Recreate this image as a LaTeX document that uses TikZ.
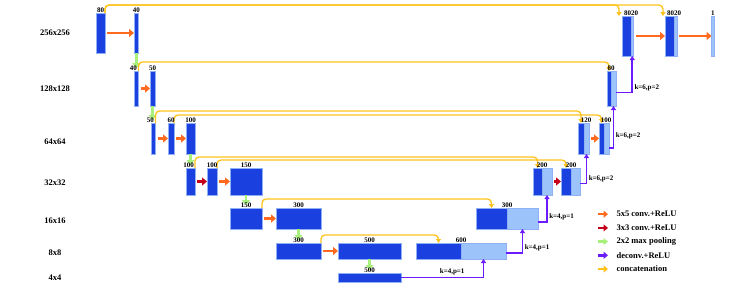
\documentclass[tikz,border=0pt]{standalone}
\usepackage{fontspec}
\setmainfont{Liberation Serif}
\usetikzlibrary{arrows.meta,positioning}
\definecolor{BlkDark}{HTML}{1A40E0}
\definecolor{BlkLight}{HTML}{9CC3FA}
\definecolor{BlkEdge}{HTML}{8FB0F5}
\definecolor{ConvFive}{HTML}{FF6A1F}
\definecolor{ConvThree}{HTML}{C4001A}
\definecolor{PoolGreen}{HTML}{A8F07C}
\definecolor{DeconvPurple}{HTML}{6A1BFF}
\definecolor{ConcatYellow}{HTML}{FFC21A}
\tikzset{blk/.style 2 args={draw=BlkEdge,fill=BlkDark,line width=.5pt,inner sep=0pt,
 outer sep=0pt,minimum width=#1,minimum height=#2,anchor=north west},
 lgt/.style 2 args={blk={#1}{#2},fill=BlkLight},
 lab/.style={font=\bfseries\fontsize{7}{8}\selectfont,inner sep=.6pt},
 rowlab/.style={font=\bfseries\fontsize{8.5}{10}\selectfont},
 kl/.style={font=\bfseries\fontsize{7}{8}\selectfont,inner sep=1.5pt,text=black},
 conv/.style={ConvFive,line width=2.8pt,-{Triangle[length=5pt,width=8pt]},shorten <=2pt},
 convs/.style={conv,ConvThree},
 pool/.style={PoolGreen,line width=2.8pt,-{Triangle[length=5pt,width=8pt]},shorten >=3pt},
 deconv/.style={DeconvPurple,line width=1.6pt,-{Triangle[length=4pt,width=5pt]}},
 concat/.style={ConcatYellow,line width=1.3pt,rounded corners=4pt,-{Triangle[length=4pt,width=5pt]}}}
\begin{document}
\begin{tikzpicture}[x=1pt,y=-1pt]
\useasboundingbox (0,0) rectangle (747,287);
\foreach \y/\t [count=\i] in {33/256x256,89/128x128,142/64x64,183/32x32,221/16x16,253/8x8,278/4x4}
 {\node[rowlab] (res\i) at (55,\y) {\t};}
% encoder
\node[blk={9pt}{40pt}] (e80) at (96,13) {};
\node[blk={4.5pt}{40pt}] (e40) at (134,13) {};
\node[blk={4.5pt}{35pt}] (e40b) at (134,71) {};
\node[blk={5pt}{35pt}] (e50) at (150,71) {};
\node[blk={4.5pt}{31pt}] (e50b) at (151,123) {};
\node[blk={6pt}{31pt}] (e60) at (168,123) {};
\node[blk={9pt}{31pt}] (e100) at (186,123) {};
\node[blk={9pt}{27pt}] (e100b) at (186,168) {};
\node[blk={10pt}{27pt}] (e100c) at (207,168) {};
\node[blk={32pt}{27pt}] (e150) at (230,168) {};
\node[blk={32pt}{21pt}] (e150b) at (230,208) {};
\node[blk={45pt}{21pt}] (e300) at (276,208) {};
\node[blk={45pt}{16pt}] (e300b) at (276,243) {};
\node[blk={63pt}{16pt}] (e500) at (338,243) {};
\node[blk={63pt}{9pt}] (e500b) at (338,273) {};
% decoder
\node[blk={45pt}{16pt}] (d600a) at (416,243) {};
\node[lgt={45pt}{16pt},right=0pt of d600a] (d600b) {};
\node[blk={31pt}{21pt}] (d300a) at (476,208) {};
\node[lgt={31pt}{21pt},right=0pt of d300a] (d300b) {};
\node[blk={9pt}{27pt}] (d200aa) at (533,168) {};
\node[lgt={10pt}{27pt},right=0pt of d200aa] (d200ab) {};
\node[blk={10pt}{27pt}] (d200ba) at (561,168) {};
\node[lgt={9pt}{27pt},right=0pt of d200ba] (d200bb) {};
\node[blk={6pt}{31pt}] (d120a) at (578,123) {};
\node[lgt={5pt}{31pt},right=0pt of d120a] (d120b) {};
\node[blk={5pt}{31pt}] (d100a) at (599,123) {};
\node[lgt={5pt}{31pt},right=0pt of d100a] (d100b) {};
\node[blk={4pt}{35pt}] (d80a) at (607,71) {};
\node[lgt={5pt}{35pt},right=0pt of d80a] (d80b) {};
\node[blk={9pt}{40pt}] (d8020a) at (622,16) {};
\node[lgt={2.5pt}{40pt},right=0pt of d8020a] (d8020ab) {};
\node[blk={9pt}{40pt}] (d8020b) at (665,16) {};
\node[lgt={3pt}{40pt},right=0pt of d8020b] (d8020bb) {};
\node[lgt={2.5pt}{40pt}] (dout) at (711.5,16) {};
% convolutions
\draw[conv] (e80) -- (e40);
\draw[conv] (e40b) -- (e50);
\draw[conv] (e50b) -- (e60);
\draw[conv] (e60) -- (e100);
\draw[convs] (e100b) -- (e100c);
\draw[conv] (e100c) -- (e150);
\draw[conv] (e150b) -- (e300);
\draw[conv] (e300b) -- (e500);
\draw[convs] (d200ab) -- (d200ba);
\draw[conv] (d120b) -- (d100a);
\draw[conv] (d8020ab) -- (d8020b);
\draw[conv] (d8020bb) -- (dout);
% pooling
\draw[pool] (e40.south) -- (e40b.north);
\draw[pool] (e50.south) -- (e50.south |- e50b.north);
\draw[pool] (e100.south) -- (e100b.north);
\draw[pool] (e150.south) -- (e150b.north);
\draw[pool] (e300.south) -- (e300b.north);
\draw[pool] (e500.south) -- (e500b.north);
% concatenations
\draw[concat] (e80.north east) -- ++(0,-8) -| ([xshift=-3pt]d8020a.north west);
\draw[concat] (e80.north east) -- ++(0,-8) -| ([xshift=-2pt]d8020b.north west);
\draw[concat] (e40b.north east) -- ++(0,-9) -| (d80a.north);
\draw[concat] (e50b.north east) -- ++(0,-12) -| (d120a.north);
\draw[concat] (e60.north east) -- ++(0,-8) -| (d100a.north);
\draw[concat] (e100b.north east) -- ++(0,-11) -| (d200aa.north);
\draw[concat] (e100c.north east) -- ++(0,-8) -| (d200ba.north);
\draw[concat] (e150b.north east) -- ++(0,-9) -| (d300a.north);
\draw[concat] (e300b.north east) -- ++(0,-8) -| (d600a.north);
% deconvolutions
\draw[deconv] ([yshift=-4pt]d80b.east) -| node[kl,right,pos=.57] (k1) {k=6,p=2} (d8020ab.south);
\draw[deconv] ([yshift=-9.5pt]d100b.east) -| node[kl,right,pos=.65] (k2) {k=6,p=2} (d80b.south);
\draw[deconv] ([yshift=-2pt]d200bb.east) -| node[kl,right,pos=.58] (k3) {k=6,p=2} (d120b.south);
\draw[deconv] ([yshift=-3.5pt]d300b.east) -| node[kl,right,pos=.59] (k4) {k=4,p=1} (d200ab.south);
\draw[deconv] ([yshift=-2pt]d600b.east) -| node[kl,right,pos=.6] (k5) {k=4,p=1} (d300b.south);
\draw[deconv] (e500b.east) -| node[kl,above,pos=.31] (k6) {k=4,p=1} (d600b.south);
% block sizes
\node[lab,above=0pt of e80] (l80) {80};
\node[lab,above=0pt of e40] (l40) {40};
\node[lab,above=0pt of e40b,xshift=-3pt] (l40b) {40};
\node[lab,above=0pt of e50] (l50) {50};
\node[lab,above=0pt of e50b,xshift=-3pt] (l50b) {50};
\node[lab,above=0pt of e60] (l60) {60};
\node[lab,above=0pt of e100] (l100) {100};
\node[lab,above=0pt of e100b,xshift=-2pt] (l100b) {100};
\node[lab,above=0pt of e100c] (l100c) {100};
\node[lab,above=0pt of e150] (l150) {150};
\node[lab,above=0pt of e150b] (l150b) {150};
\node[lab,above=0pt of e300] (l300) {300};
\node[lab,above=0pt of e300b] (l300b) {300};
\node[lab,above=0pt of e500] (l500) {500};
\node[lab,above=0pt of e500b] (l500b) {500};
\node[lab,above=0pt of d600a.north east] (l600) {600};
\node[lab,above=0pt of d300a.north east] (l300d) {300};
\node[lab,above=0pt of d200aa.north east] (l200a) {200};
\node[lab,above=0pt of d200ba.north east] (l200b) {200};
\node[lab,above=0pt of d120a.north east,xshift=2pt] (l120) {120};
\node[lab,above=0pt of d100a.north east,xshift=2pt] (l100d) {100};
\node[lab,above=0pt of d80a.north east] (l80d) {80};
\node[lab,above=0pt of d8020a.north east] (l8020a) {8020};
\node[lab,above=0pt of d8020b.north east] (l8020b) {8020};
\node[lab,above=0pt of dout] (lout) {1};
% legend
\foreach \st/\t [count=\i] in {conv/5x5 conv.+ReLU,convs/3x3 conv.+ReLU,pool/2x2 max pooling,deconv/deconv.+ReLU,concat/concatenation}
 {\node[rowlab,anchor=west] (leg\i) at (613,200.5+13.7*\i) {\t};
 \draw[\st,line width=2.4pt,shorten <=0pt,shorten >=0pt,-{Triangle[length=4.5pt,width=7pt]}] ([xshift=-15pt]leg\i.west) -- ([xshift=-5pt]leg\i.west);}
\end{tikzpicture}
\end{document}
